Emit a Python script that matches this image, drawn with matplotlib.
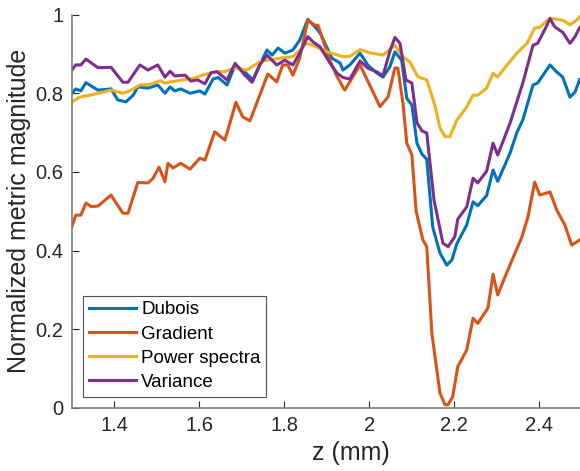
import matplotlib
matplotlib.use("Agg")
import matplotlib.pyplot as plt

# Dubois
z_dubois = [1.300, 1.309, 1.321, 1.333, 1.361, 1.392, 1.408, 1.427, 1.444, 1.455,
            1.479, 1.502, 1.519, 1.531, 1.542, 1.556, 1.578, 1.601, 1.613, 1.632,
            1.644, 1.665, 1.684, 1.707, 1.726, 1.742, 1.759, 1.771, 1.785, 1.801,
            1.820, 1.836, 1.855, 1.872, 1.884, 1.912, 1.931, 1.938, 1.954, 1.978,
            1.996, 2.018, 2.032, 2.048, 2.060, 2.076, 2.088, 2.100, 2.112, 2.124,
            2.135, 2.149, 2.166, 2.182, 2.194, 2.206, 2.229, 2.244, 2.255, 2.276,
            2.291, 2.302, 2.331, 2.347, 2.361, 2.385, 2.396, 2.425, 2.441, 2.455,
            2.472, 2.484, 2.495]
dubois = [0.800, 0.811, 0.806, 0.827, 0.808, 0.811, 0.783, 0.778, 0.795, 0.816,
          0.813, 0.821, 0.800, 0.816, 0.806, 0.811, 0.800, 0.806, 0.798, 0.836,
          0.840, 0.821, 0.872, 0.854, 0.834, 0.872, 0.910, 0.897, 0.915, 0.902,
          0.910, 0.935, 0.988, 0.969, 0.953, 0.889, 0.877, 0.859, 0.872, 0.902,
          0.872, 0.851, 0.841, 0.867, 0.905, 0.884, 0.787, 0.770, 0.673, 0.645,
          0.632, 0.460, 0.394, 0.363, 0.376, 0.418, 0.465, 0.524, 0.514, 0.540,
          0.605, 0.576, 0.648, 0.700, 0.732, 0.821, 0.826, 0.872, 0.854, 0.841,
          0.790, 0.803, 0.835]

# Gradient
z_gradient = [1.300, 1.309, 1.321, 1.333, 1.345, 1.361, 1.392, 1.420, 1.432, 1.455,
              1.479, 1.491, 1.505, 1.519, 1.526, 1.538, 1.556, 1.578, 1.601, 1.613,
              1.636, 1.660, 1.686, 1.702, 1.719, 1.761, 1.782, 1.796, 1.808, 1.820,
              1.836, 1.855, 1.872, 1.879, 1.907, 1.924, 1.942, 1.978, 2.025, 2.044,
              2.060, 2.067, 2.079, 2.088, 2.100, 2.110, 2.126, 2.135, 2.147, 2.166,
              2.178, 2.185, 2.196, 2.208, 2.229, 2.244, 2.255, 2.279, 2.291, 2.302,
              2.319, 2.359, 2.373, 2.389, 2.401, 2.425, 2.441, 2.460, 2.476, 2.495]
gradient = [0.461, 0.490, 0.490, 0.521, 0.512, 0.513, 0.541, 0.495, 0.495, 0.573,
            0.572, 0.584, 0.612, 0.575, 0.622, 0.610, 0.622, 0.607, 0.635, 0.630,
            0.702, 0.681, 0.777, 0.740, 0.730, 0.849, 0.829, 0.872, 0.872, 0.846,
            0.889, 0.985, 0.973, 0.973, 0.884, 0.842, 0.808, 0.872, 0.766, 0.791,
            0.864, 0.864, 0.775, 0.673, 0.643, 0.500, 0.427, 0.410, 0.190, 0.038,
            0.008, 0.008, 0.028, 0.105, 0.147, 0.228, 0.215, 0.254, 0.340, 0.287,
            0.333, 0.435, 0.485, 0.574, 0.541, 0.549, 0.503, 0.465, 0.414, 0.427]

# Power spectra
z_power = [1.300, 1.318, 1.342, 1.361, 1.392, 1.420, 1.436, 1.460, 1.486, 1.507,
           1.519, 1.533, 1.566, 1.589, 1.613, 1.644, 1.660, 1.684, 1.712, 1.742,
           1.759, 1.789, 1.820, 1.836, 1.853, 1.867, 1.891, 1.907, 1.938, 1.954,
           1.978, 2.001, 2.032, 2.060, 2.079, 2.095, 2.114, 2.135, 2.154, 2.166,
           2.178, 2.189, 2.206, 2.229, 2.244, 2.255, 2.276, 2.291, 2.302, 2.324,
           2.347, 2.371, 2.389, 2.401, 2.425, 2.441, 2.455, 2.472, 2.488, 2.495]
power = [0.778, 0.790, 0.795, 0.800, 0.808, 0.800, 0.806, 0.821, 0.823, 0.832,
         0.826, 0.829, 0.835, 0.839, 0.848, 0.855, 0.855, 0.864, 0.859, 0.880,
         0.884, 0.889, 0.893, 0.910, 0.927, 0.922, 0.910, 0.903, 0.893, 0.894,
         0.911, 0.903, 0.897, 0.922, 0.893, 0.880, 0.842, 0.834, 0.770, 0.712,
         0.690, 0.689, 0.732, 0.765, 0.795, 0.795, 0.813, 0.851, 0.841, 0.872,
         0.902, 0.927, 0.966, 0.968, 0.991, 0.988, 0.986, 0.974, 0.986, 0.994]

# Variance
z_variance = [1.300, 1.309, 1.321, 1.333, 1.361, 1.392, 1.420, 1.432, 1.460, 1.479,
              1.502, 1.519, 1.531, 1.542, 1.566, 1.580, 1.596, 1.613, 1.627, 1.641,
              1.665, 1.684, 1.707, 1.724, 1.742, 1.759, 1.782, 1.801, 1.820, 1.836,
              1.855, 1.867, 1.884, 1.907, 1.924, 1.938, 1.954, 1.978, 1.996, 2.018,
              2.032, 2.048, 2.060, 2.072, 2.086, 2.100, 2.112, 2.124, 2.135, 2.152,
              2.173, 2.185, 2.201, 2.208, 2.229, 2.244, 2.255, 2.276, 2.291, 2.302,
              2.331, 2.361, 2.385, 2.396, 2.418, 2.425, 2.436, 2.455, 2.472, 2.484,
              2.495]
variance = [0.859, 0.872, 0.872, 0.887, 0.865, 0.866, 0.828, 0.828, 0.872, 0.859,
            0.872, 0.841, 0.856, 0.844, 0.846, 0.831, 0.834, 0.824, 0.852, 0.855,
            0.834, 0.876, 0.846, 0.828, 0.872, 0.897, 0.872, 0.884, 0.872, 0.902,
            0.944, 0.931, 0.918, 0.877, 0.851, 0.840, 0.836, 0.882, 0.864, 0.854,
            0.845, 0.906, 0.942, 0.927, 0.834, 0.826, 0.725, 0.704, 0.699, 0.529,
            0.419, 0.410, 0.435, 0.480, 0.511, 0.584, 0.572, 0.602, 0.673, 0.643,
            0.724, 0.826, 0.922, 0.927, 0.973, 0.990, 0.969, 0.955, 0.927, 0.944,
            0.967]

x_ticks = [1.4, 1.6, 1.8, 2.0, 2.2, 2.4]
x_ticklabels = ["1.4", "1.6", "1.8", "2", "2.2", "2.4"]
y_ticks = [0, 0.2, 0.4, 0.6, 0.8, 1.0]
y_ticklabels = ["0", "0.2", "0.4", "0.6", "0.8", "1"]

plt.rcParams['font.family'] = ['Liberation Sans', 'DejaVu Sans']

fig = plt.figure(figsize=(5.8, 4.71), dpi=100)
# the original axes runs past the right edge of the picture (cropped)
ax = fig.add_axes([0.124, 0.134, 0.962, 0.835])

ax.plot(z_dubois, dubois, color='#0072BD', lw=2.2, label='Dubois')
ax.plot(z_gradient, gradient, color='#D95319', lw=2.2, label='Gradient')
ax.plot(z_power, power, color='#EDB120', lw=2.2, label='Power spectra')
ax.plot(z_variance, variance, color='#7E2F8E', lw=2.2, label='Variance')

ax.set_xlim(1.3, 2.613)
ax.set_ylim(0, 1)
ax.set_xticks(x_ticks)
ax.set_xticklabels(x_ticklabels)
ax.set_yticks(y_ticks)
ax.set_yticklabels(y_ticklabels)
ax.tick_params(direction='in', length=5, width=0.8, colors='#262626', labelsize=14.5, pad=6)
for s in ['top', 'right']:
    ax.spines[s].set_visible(False)
for s in ['left', 'bottom']:
    ax.spines[s].set_color('#7f7f7f')
    ax.spines[s].set_linewidth(1.2)

ax.set_xlabel('z (mm)', fontsize=18, color='#262626', labelpad=4)
ax.set_ylabel('Normalized metric magnitude', fontsize=18, color='#262626', labelpad=3)

leg = ax.legend(loc='lower left', fontsize=13.5, frameon=True, fancybox=False,
                handlelength=2.5, handletextpad=0.3, borderpad=0.3, labelspacing=0.38,
                borderaxespad=0.6)
leg.get_frame().set_edgecolor('#262626')
leg.get_frame().set_linewidth(0.8)

fig.savefig('out.png', dpi=100)
